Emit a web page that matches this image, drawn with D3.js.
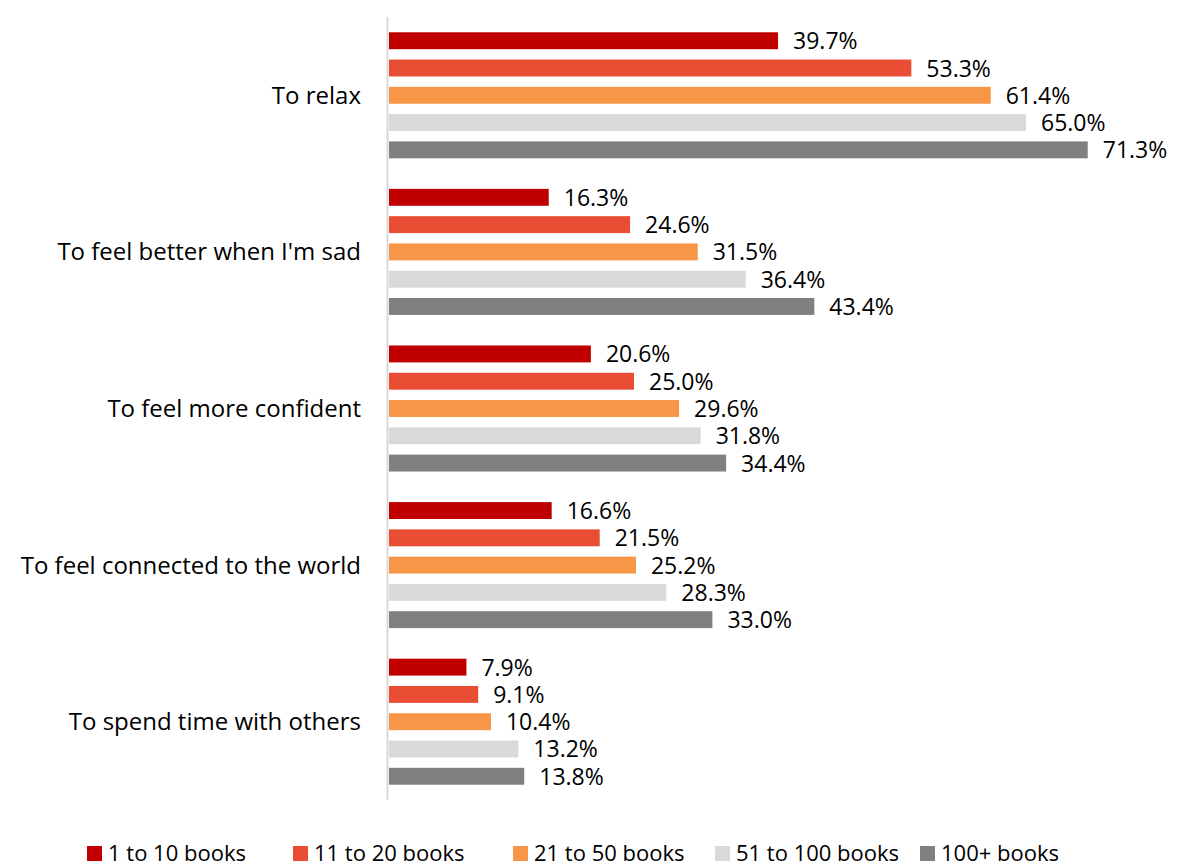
<!DOCTYPE html>
<html>
<head>
<meta charset="utf-8">
<script src="https://cdn.jsdelivr.net/npm/d3@7"></script>
<style>
  body { margin: 0; background: #fff; }
  text { font-family: "Open Sans", "Liberation Sans", sans-serif; fill: #000; }
</style>
</head>
<body>
<div id="chart-area"></div>
<script>
// data
var categories = ["To relax", "To feel better when I'm sad", "To feel more confident",
  "To feel connected to the world", "To spend time with others"];
var seriesNames = ["1 to 10 books", "11 to 20 books", "21 to 50 books", "51 to 100 books", "100+ books"];
var seriesColors = ["#C00000", "#E94E35", "#F79646", "#D9D9D9", "#808080"];
var values = [
  [39.7, 53.3, 61.4, 65.0, 71.3],
  [16.3, 24.6, 31.5, 36.4, 43.4],
  [20.6, 25.0, 29.6, 31.8, 34.4],
  [16.6, 21.5, 25.2, 28.3, 33.0],
  [7.9, 9.1, 10.4, 13.2, 13.8]
];

var W = 1178, H = 863;
var svg = d3.select("#chart-area").append("svg")
  .attr("width", W)
  .attr("height", H);

/* scales */
var x = d3.scaleLinear().domain([0, 80]).range([389, 389 + 784]);
var y0 = d3.scaleBand().domain(categories).range([17, 800]);
var y1 = d3.scaleBand().domain(seriesNames)
  .range([0, y0.bandwidth()])
  .paddingInner(0.38)
  .paddingOuter(0.56);
var color = d3.scaleOrdinal().domain(seriesNames).range(seriesColors);

// axis line
svg.append("line")
  .attr("x1", 387.5).attr("x2", 387.5)
  .attr("y1", 17).attr("y2", 800)
  .attr("stroke", "#D9D9D9")
  .attr("stroke-width", 2);

// category labels
svg.selectAll(".cat").data(categories).enter()
  .append("text")
  .attr("class", "cat")
  .attr("x", 361)
  .attr("y", d => y0(d) + y0.bandwidth() / 2)
  .attr("dy", "0.35em")
  .attr("text-anchor", "end")
  .attr("font-size", "24px")
  .text(d => d);

// bars
var groups = svg.selectAll(".grp").data(categories).enter()
  .append("g")
  .attr("class", "grp")
  .attr("transform", d => "translate(0," + y0(d) + ")");

groups.selectAll("rect")
  .data((d, i) => values[i].map((v, j) => ({key: seriesNames[j], value: v})))
  .enter().append("rect")
  .attr("x", x(0))
  .attr("y", d => y1(d.key))
  .attr("width", d => x(d.value) - x(0))
  .attr("height", y1.bandwidth())
  .attr("fill", d => color(d.key));

groups.selectAll(".val")
  .data((d, i) => values[i].map((v, j) => ({key: seriesNames[j], value: v})))
  .enter().append("text")
  .attr("class", "val")
  .attr("x", d => x(d.value) + 15)
  .attr("y", d => y1(d.key) + y1.bandwidth() / 2)
  .attr("dy", "0.37em")
  .attr("font-size", "23px")
  .text(d => d.value.toFixed(1) + "%");

// legend
var legendX = [87, 293, 513, 715, 920];
var legend = svg.selectAll(".leg").data(seriesNames).enter()
  .append("g")
  .attr("class", "leg")
  .attr("transform", (d, i) => "translate(" + legendX[i] + ",846)");

legend.append("rect")
  .attr("width", 15)
  .attr("height", 15)
  .attr("fill", d => color(d));

legend.append("text")
  .attr("x", 21)
  .attr("y", 15)
  .attr("font-size", "22px")
  .text(d => d);
</script>
</body>
</html>
